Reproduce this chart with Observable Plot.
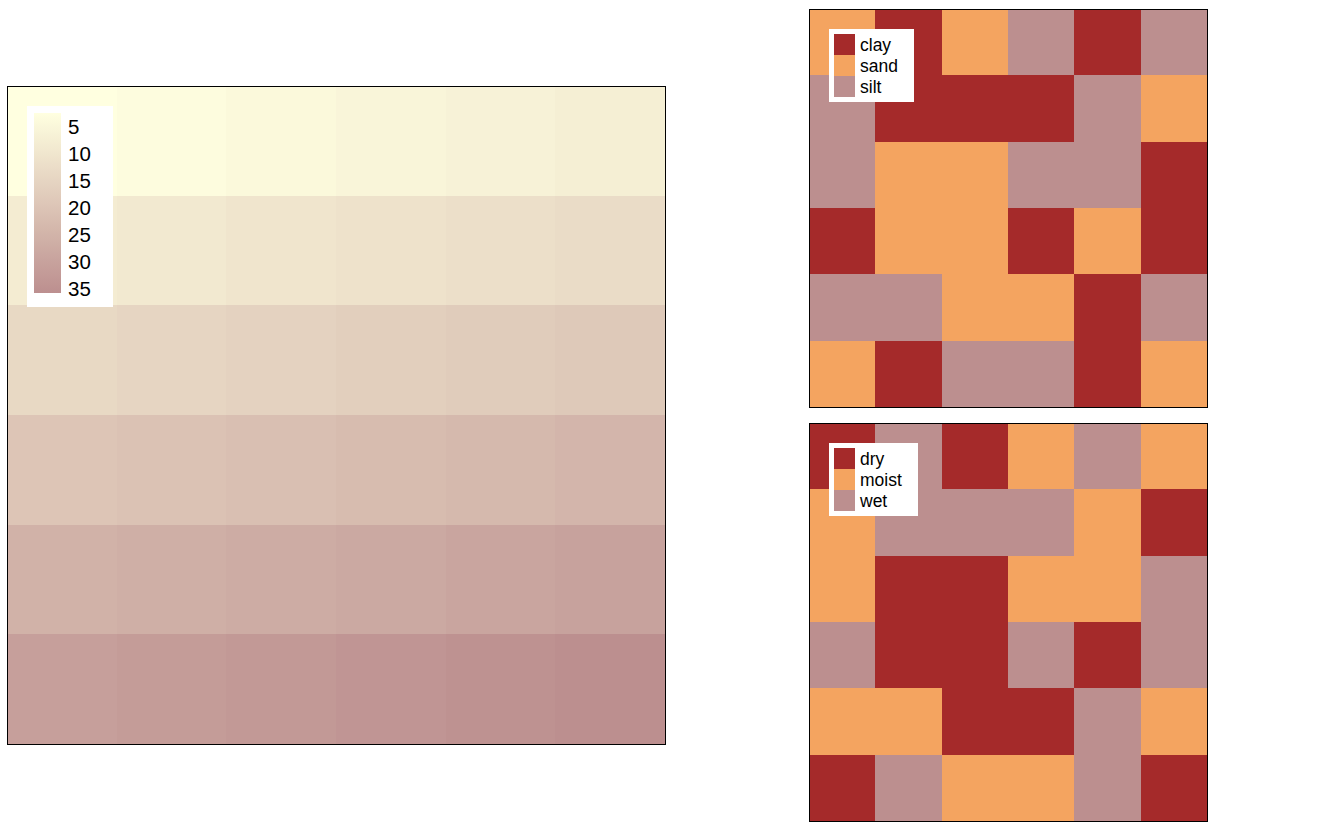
<!DOCTYPE html>
<html>
<head>
<meta charset="utf-8">
<script src="https://cdn.jsdelivr.net/npm/d3@7"></script>
<script src="https://cdn.jsdelivr.net/npm/@observablehq/plot@0.6"></script>
<style>
  html, body { margin: 0; padding: 0; background: #fff; }
  #root { position: relative; width: 1344px; height: 830px; overflow: hidden; font-family: "Liberation Sans", Arial, sans-serif; }
  .panel { position: absolute; }
  .legend { position: absolute; background: #fff; }
  .sw { position: absolute; }
  .lab { position: absolute; color: #000; white-space: nowrap; }
</style>
</head>
<body>
<div id="root"></div>
<script>
// ---- data ----
const rowIds = [1, 2, 3, 4, 5, 6];
const colIds = [1, 2, 3, 4, 5, 6];

const contValues = [
  [1, 2, 3, 4, 5, 6],
  [7, 8, 9, 10, 11, 12],
  [13, 14, 15, 16, 17, 18],
  [19, 20, 21, 22, 23, 24],
  [25, 26, 27, 28, 29, 30],
  [31, 32, 33, 34, 35, 36]
];
const contTicks = [5, 10, 15, 20, 25, 30, 35];
const contColors = ["lightyellow", "rosybrown"];

const soilClasses = ["clay", "sand", "silt"];
const soilValues = [
  ["sand", "clay", "sand", "silt", "clay", "silt"],
  ["silt", "clay", "clay", "clay", "silt", "sand"],
  ["silt", "sand", "sand", "silt", "silt", "clay"],
  ["clay", "sand", "sand", "clay", "sand", "clay"],
  ["silt", "silt", "sand", "sand", "clay", "silt"],
  ["sand", "clay", "silt", "silt", "clay", "sand"]
];

const moistClasses = ["dry", "moist", "wet"];
const moistValues = [
  ["dry", "wet", "dry", "moist", "wet", "moist"],
  ["moist", "wet", "wet", "wet", "moist", "dry"],
  ["moist", "dry", "dry", "moist", "moist", "wet"],
  ["wet", "dry", "dry", "wet", "dry", "wet"],
  ["moist", "moist", "dry", "dry", "wet", "moist"],
  ["dry", "wet", "moist", "moist", "wet", "dry"]
];
const catColors = ["brown", "sandybrown", "rosybrown"];

// ---- helpers ----
function toTable(grid) {
  const out = [];
  grid.forEach((row, i) => row.forEach((v, j) => out.push({row: rowIds[i], col: colIds[j], value: v})));
  return out;
}

function rasterPlot(data, size, color) {
  return Plot.plot({
    width: size, height: size,
    margin: 1,
    style: {background: "transparent"},
    x: {type: "band", domain: colIds, padding: 0, round: false, axis: null},
    y: {type: "band", domain: rowIds, padding: 0, round: false, axis: null},
    color,
    marks: [
      Plot.cell(data, {x: "col", y: "row", fill: "value", shapeRendering: "crispEdges"}),
      Plot.frame({stroke: "#000", strokeWidth: 1})
    ]
  });
}

function place(el, left, top) {
  el.classList.add("panel");
  el.style.left = left + "px";
  el.style.top = top + "px";
  root.appendChild(el);
}

const root = document.getElementById("root");

// ---- left continuous panel ----
const p1 = rasterPlot(toTable(contValues), 660,
  {type: "linear", domain: [1, 36], range: contColors, interpolate: "rgb"});
place(p1, 6, 85);

{
  const sc = p1.scale("color");
  const lg = document.createElement("div");
  lg.className = "legend";
  Object.assign(lg.style, {left: "27px", top: "106px", width: "86px", height: "201px"});
  const bar = document.createElement("div");
  bar.className = "sw";
  const stops = d3.range(0, 11).map(k => {
    const v = 1 + k * 3.5;
    return sc.apply(v) + " " + (k * 10) + "%";
  });
  Object.assign(bar.style, {left: "7px", top: "7px", width: "27px", height: "180px",
    background: "linear-gradient(to bottom, " + stops.join(", ") + ")"});
  lg.appendChild(bar);
  contTicks.forEach((t, i) => {
    const d = document.createElement("div");
    d.className = "lab";
    d.textContent = t;
    Object.assign(d.style, {left: "41px", top: (6.5 + i * 27) + "px", height: "27px",
      lineHeight: "27px", fontSize: "20.5px"});
    lg.appendChild(d);
  });
  root.appendChild(lg);
}

// ---- categorical panels ----
function catLegend(plot, classes, left, top, width) {
  const sc = plot.scale("color");
  const lg = document.createElement("div");
  lg.className = "legend";
  Object.assign(lg.style, {left: left + "px", top: top + "px", width: width + "px", height: "73px"});
  classes.forEach((c, i) => {
    const s = document.createElement("div");
    s.className = "sw";
    Object.assign(s.style, {left: "5px", top: (4.5 + i * 21.3) + "px", width: "21px", height: "21.3px",
      background: sc.apply(c)});
    lg.appendChild(s);
    const d = document.createElement("div");
    d.className = "lab";
    d.textContent = c;
    Object.assign(d.style, {left: "31px", top: (5.5 + i * 21.3) + "px", height: "21.3px",
      lineHeight: "21.3px", fontSize: "17.5px"});
    lg.appendChild(d);
  });
  root.appendChild(lg);
}

const p2 = rasterPlot(toTable(soilValues), 400,
  {type: "ordinal", domain: soilClasses, range: catColors});
place(p2, 808, 8);
catLegend(p2, soilClasses, 829, 29, 85);

const p3 = rasterPlot(toTable(moistValues), 400,
  {type: "ordinal", domain: moistClasses, range: catColors});
place(p3, 808, 422);
catLegend(p3, moistClasses, 829, 443, 89);
</script>
</body>
</html>
